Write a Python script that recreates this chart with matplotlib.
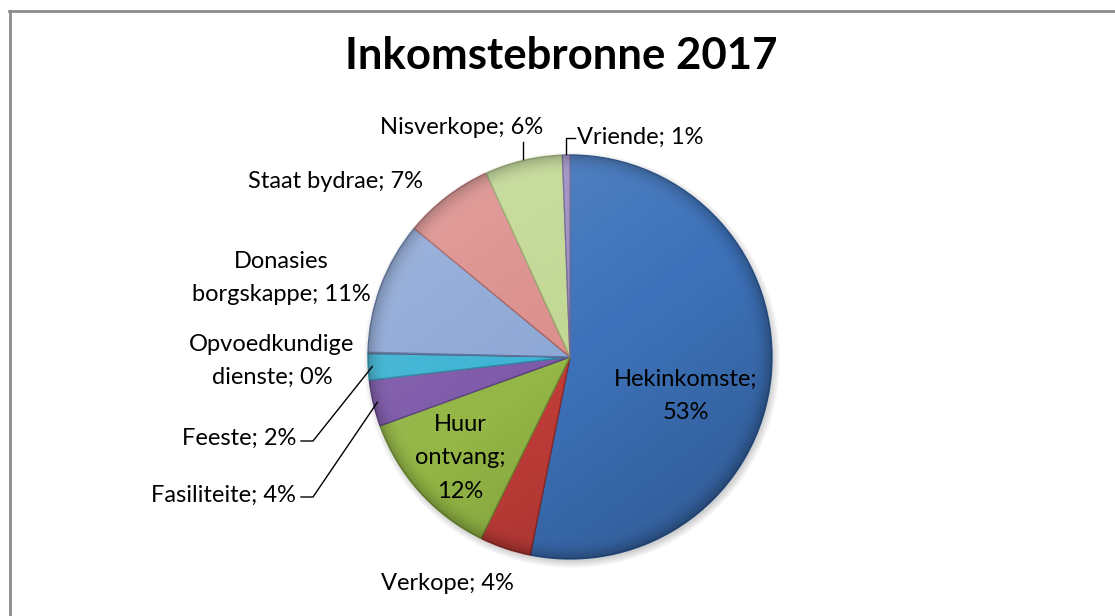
import matplotlib.pyplot as plt
import numpy as np
from matplotlib.patches import Circle

plt.rcParams['font.family'] = ['Lato', 'DejaVu Sans']

# data
categories = ['Hekinkomste', 'Verkope', 'Huur ontvang', 'Fasiliteite', 'Feeste',
              'Opvoedkundige dienste', 'Donasies borgskappe', 'Staat bydrae',
              'Nisverkope', 'Vriende']
values = [53.1, 4.1, 12.2, 3.7, 2.1, 0.1, 10.6, 7.2, 6.2, 0.6]
colors = ['#3d72ba', '#c23d39', '#93b646', '#7d59a9', '#3cb3d3',
          '#f79646', '#8ea8d6', '#dc8f8c', '#c2d894', '#9d8fc2']
title = 'Inkomstebronne 2017'

W, H = 1115, 616
cx, cy, R = 570, H - 357, 202

fig = plt.figure(figsize=(W / 100, H / 100), dpi=100)
ax = fig.add_axes([0, 0, 1, 1])

# soft shadow under the pie
for k in range(8):
    ax.add_patch(Circle((cx + 2, cy - 3), R + 6 - k, color='black', alpha=0.025, lw=0))

edge = ['#2c5890', '#8e2a27', '#6c8a30', '#5b3f80', '#2a8aa4',
        '#4d5f80', '#5d74a0', '#a86664', '#97ab6c', '#74679a']
wedges, _ = ax.pie(values, colors=colors, startangle=90, counterclock=False,
                   center=(cx, cy), radius=R,
                   wedgeprops=dict(linewidth=1.0))
for w, e in zip(wedges, edge):
    w.set_edgecolor(e)

# lighting overlay (top-left light, darker rim)
n = 400
u, v = np.meshgrid(np.linspace(-1, 1, n), np.linspace(1, -1, n))
d = np.sqrt(u ** 2 + v ** 2)
shade = (-0.45 * u + 0.6 * v)
rim = np.clip((d - 0.9) / 0.1, 0, 1)
img = np.zeros((n, n, 4))
lit = np.clip(shade, 0, None)
dark = np.clip(-shade, 0, None)
a_white = 0.16 * lit
a_black = 0.22 * dark + 0.22 * rim ** 2
alpha = a_white + a_black
val = np.where(alpha > 0, a_white / np.maximum(alpha, 1e-6), 0)
img[..., 0] = val
img[..., 1] = val
img[..., 2] = val
img[..., 3] = np.clip(alpha, 0, 0.5)
im = ax.imshow(img, extent=[cx - R, cx + R, cy - R, cy + R], zorder=3, interpolation='bilinear')
clip = Circle((cx, cy), R, transform=ax.transData)
im.set_clip_path(clip)

ax.set_xlim(0, W)
ax.set_ylim(0, H)
ax.axis('off')

total = sum(values)
pct = [int(round(v / total * 100)) for v in values]


def rim_point(i, rr=R):
    w = wedges[i]
    a = np.deg2rad((w.theta1 + w.theta2) / 2)
    return cx + rr * np.cos(a), cy + rr * np.sin(a)


fs = 17
# label index, x, y (pixels from top), alignment
labels = [
    (0, 686, 396, 'center'),
    (1, 447, 583, 'center'),
    (2, 460, 458, 'center'),
    (3, 296, 495, 'right'),
    (4, 296, 438, 'right'),
    (5, 272, 361, 'center'),
    (6, 281, 278, 'center'),
    (7, 336, 182, 'center'),
    (8, 462, 128, 'center'),
    (9, 577, 137, 'left'),
]
for i, x, y, ha in labels:
    name = categories[i]
    if i == 0:
        txt = f'{name};\n{pct[i]}%'
    elif i == 2:
        txt = f'Huur\nontvang;\n{pct[i]}%'
    elif i == 5:
        txt = f'Opvoedkundige\ndienste; {pct[i]}%'
    elif i == 6:
        txt = f'Donasies\nborgskappe; {pct[i]}%'
    else:
        txt = f'{name}; {pct[i]}%'
    ax.text(x, H - y, txt, ha=ha, va='center', fontsize=fs, color='#000000',
            linespacing=1.72, zorder=5)

# leader lines
lc = dict(color='black', lw=1.0, zorder=4)
for i, y in [(3, 497), (4, 441)]:
    px, py = rim_point(i, R - 4)
    ax.plot([301, 313, px], [H - y, H - y, py], **lc)
px, py = rim_point(8, R + 1)
ax.plot([px, px], [H - 142, py], **lc)
px, py = rim_point(9, R + 1)
ax.plot([575, px, px], [H - 138, H - 138, py], **lc)

ax.text(561, H - 56, title, ha='center', va='center', fontsize=31.5,
        fontweight='bold', color='black')

# chart area border (only top/left visible)
ax.plot([9, W], [H - 11, H - 11], color='#8c8c8c', lw=2, zorder=6)
ax.plot([10, 10], [H - 11, 0], color='#8c8c8c', lw=2, zorder=6)

fig.savefig('out.png', dpi=100)
